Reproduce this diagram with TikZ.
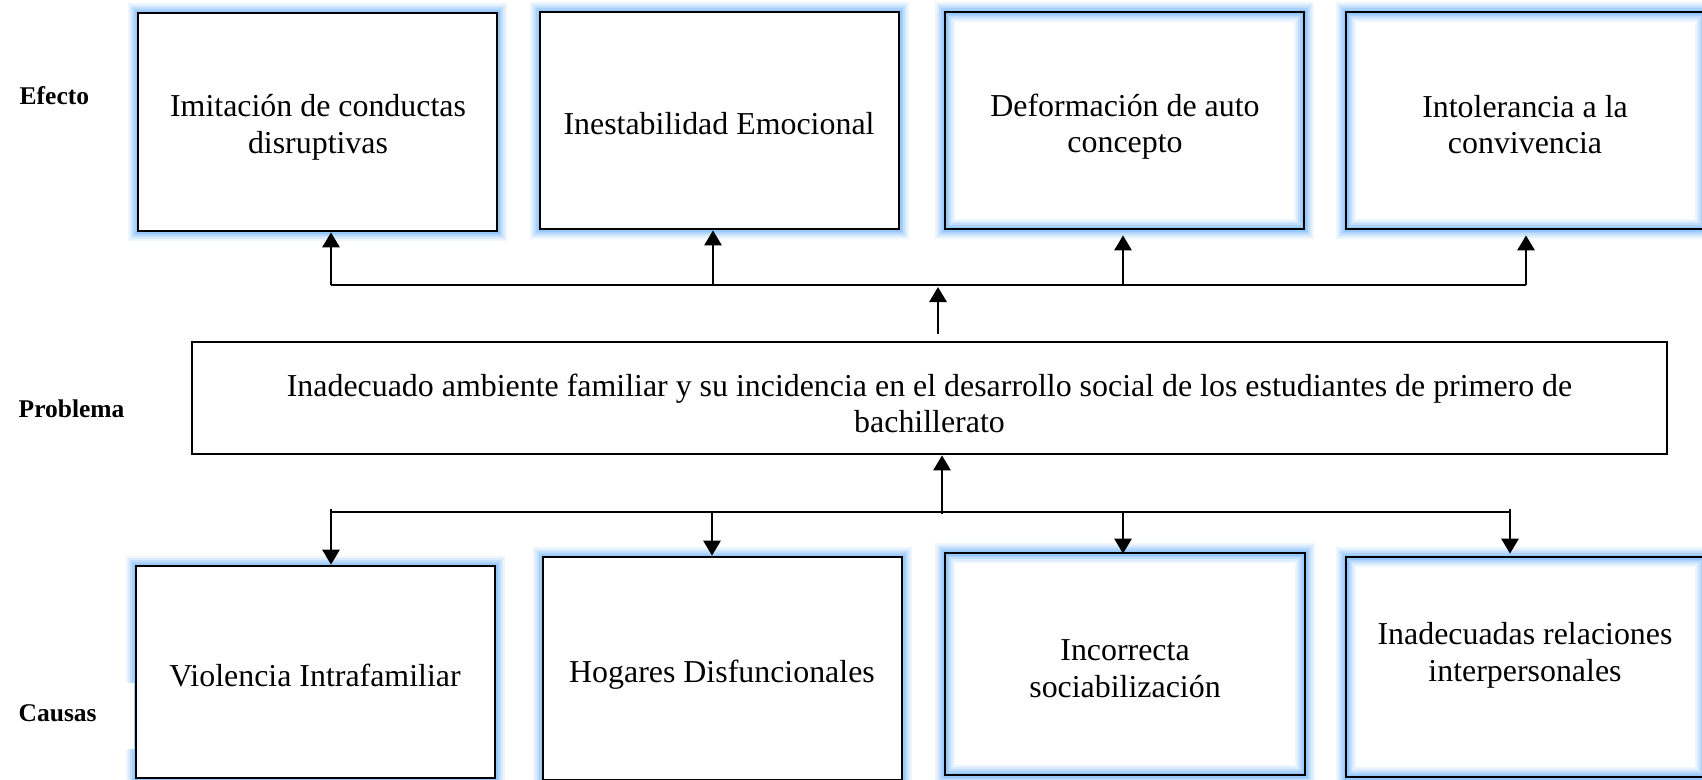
\documentclass[tikz,border=0pt]{standalone}
\usepackage{fontspec}
\setmainfont{Liberation Serif}
\usetikzlibrary{arrows.meta}
\definecolor{glowc}{RGB}{140,195,250}
\tikzset{
  glow/.style={
    preaction={draw=glowc, line width=20pt, draw opacity=0.15},
    preaction={draw=glowc, line width=16pt, draw opacity=0.2},
    preaction={draw=glowc, line width=12pt, draw opacity=0.3},
    preaction={draw=glowc, line width=8pt, draw opacity=0.45},
    preaction={draw=glowc, line width=5pt, draw opacity=0.6}},
  box/.style={rectangle, draw=black, line width=2.7pt, inner sep=0pt, minimum width=359pt},
  outerbox/.style={box, glow, fill=white},
  innerbox/.style={box, glow},
  plainbox/.style={box, fill=white},
  boxtxt/.style={font=\fontsize{31.9}{36.5}\selectfont, align=center, inner sep=0pt},
  lbl/.style={font=\fontsize{25.5}{30}\selectfont\bfseries, anchor=west, inner sep=0pt},
  conn/.style={line width=2.8pt},
  conntwo/.style={line width=2.4pt},
  arr/.style={line width=2.8pt, -{Triangle[length=15pt,width=17pt]}},
}
\begin{document}
\begin{tikzpicture}[x=1pt,y=-1pt]
\useasboundingbox (0,0) rectangle (1702,779);
\fill[white] (0,0) rectangle (1702,779);

% effect boxes
\node[outerbox, minimum height=218pt] (b1) at (317.5,122) {};
\node[outerbox, minimum height=217pt] (b2) at (719.5,120.5) {};
\node[innerbox, minimum height=217pt] (b3) at (1124.5,120.5) {};
\node[innerbox, minimum height=217pt] (b4) at (1525.5,120.5) {};

% problem box
\node[plainbox, minimum width=1475pt, minimum height=112pt] (prob) at (929.5,398) {};
\node[boxtxt] (tp) at (929.5,403.5)
  {Inadecuado ambiente familiar y su incidencia en el desarrollo social de los estudiantes de primero de\\bachillerato};

% cause boxes
\node[outerbox, minimum height=212pt] (b5) at (315.5,672) {};
\node[outerbox, minimum height=223pt] (b6) at (722.5,668.5) {};
\node[innerbox, minimum width=360pt, minimum height=222pt] (b7) at (1125,664) {};
\node[innerbox, minimum height=220pt] (b8) at (1525.5,667) {};

% white patch behind "Causas"
\fill[white] (0,683) rectangle (134.3,749);

% box texts
\node[boxtxt] (t1) at (318,127.5) {Imitación de conductas\\disruptivas};
\node[boxtxt] (t2) at (719,123.5) {Inestabilidad Emocional};
\node[boxtxt] (t3) at (1125,126.5) {Deformación de auto\\concepto};
\node[boxtxt] (t4) at (1525,124.5) {Intolerancia a la\\convivencia};
\node[boxtxt] (t5) at (315,675.5) {Violencia Intrafamiliar};
\node[boxtxt] (t6) at (722,674.5) {Hogares Disfuncionales};
\node[boxtxt] (t7) at (1125,668.5) {Incorrecta\\sociabilización};
\node[boxtxt] (t8) at (1525,655.5) {Inadecuadas relaciones\\interpersonales};

% row labels
\node[lbl] (efecto) at (19.5,96) {Efecto};
\node[lbl] (problema) at (18.5,409) {Problema};
\node[lbl] (causas) at (18.5,713) {Causas};

% top connectors
\coordinate (a1) at (331,285);
\coordinate (a2) at (713,285);
\coordinate (a3) at (1123,285);
\coordinate (a4) at (1526,285);
\coordinate (tj) at (938,285);
\draw[conn] (a1) -- (a4);
\draw[arr] (a1) -- (a1 |- b1.south);
\draw[arr] (a2) -- (a2 |- b2.south);
\draw[arr, shorten >=5pt] (a3) -- (a3 |- b3.south);
\draw[arr, shorten >=5pt] (a4) -- (a4 |- b4.south);
\draw[arr, shorten <=7pt, shorten >=2pt] (tj |- prob.north) -- (tj);

% bottom connectors
\coordinate (c1) at (331,512);
\coordinate (c2) at (712,512);
\coordinate (c3) at (1123,512);
\coordinate (c4) at (1510,512);
\coordinate (bj) at (942,512);
\draw[conntwo] (c1) -- (c4);
\draw[arr, shorten <=-3pt] (c1) -- (c1 |- b5.north);
\draw[arr] (c2) -- (c2 |- b6.north);
\draw[arr, shorten >=-2pt] (c3) -- (c3 |- b7.north);
\draw[arr, shorten >=2pt, shorten <=-3pt] (c4) -- (c4 |- b8.north);
\draw[arr, shorten <=-2pt] (bj) -- (bj |- prob.south);
\end{tikzpicture}
\end{document}
